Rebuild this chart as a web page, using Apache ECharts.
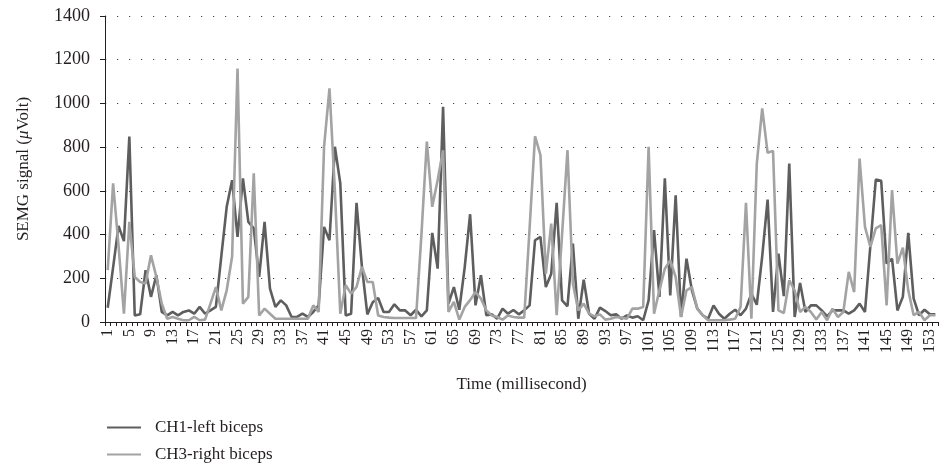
<!DOCTYPE html>
<html>
<head>
<meta charset="utf-8">
<script src="https://cdn.jsdelivr.net/npm/echarts@6/dist/echarts.min.js"></script>
<style>
html,body{margin:0;padding:0;background:#fff;}
#chart{width:941px;height:472px;}
</style>
</head>
<body>
<div id="chart"></div>
<script>
// Time index 1..154
var categories = [];
for (var i = 1; i <= 154; i++) categories.push(String(i));

var seriesNames = ['CH1-left biceps', 'CH3-right biceps'];

var ch1Left = [
 65,250,440,370,848,30,35,237,115,214,
 46,30,46,30,46,53,38,69,38,53,
 69,300,527,649,389,657,458,428,206,458,
 153,69,99,76,23,23,38,23,46,76,
 435,374,802,634,30,38,545,252,35,90,
 110,46,46,81,53,53,31,56,26,53,
 408,244,985,84,160,56,250,493,76,214,
 31,35,15,61,38,55,35,53,76,374,
 389,160,221,545,99,72,359,15,194,38,
 15,66,50,31,35,15,30,20,26,8,
 99,420,115,657,122,580,23,290,145,61,
 31,15,76,38,15,38,56,31,61,130,
 79,300,560,46,313,118,725,23,179,46,
 76,76,53,26,53,53,53,38,53,84,
 46,350,652,646,267,290,53,115,408,107,
 31,56,35,35
];

var ch3Right = [
 237,634,350,38,458,206,183,176,305,206,
 84,15,23,15,8,8,23,8,11,84,
 160,53,145,300,1160,84,115,680,30,61,
 38,15,15,15,15,15,15,15,76,46,
 802,1069,600,38,168,130,160,252,183,183,
 30,23,20,18,18,18,18,18,400,825,
 527,650,786,46,92,11,69,100,137,107,
 53,30,23,11,30,23,20,20,430,850,
 764,221,450,31,400,786,176,53,84,38,
 26,35,11,15,23,20,15,61,61,69,
 802,38,145,244,282,206,23,145,160,61,
 31,8,8,8,8,11,15,69,545,15,
 725,977,774,783,53,41,191,145,46,69,
 46,11,46,8,61,23,46,229,137,748,
 435,344,428,443,76,603,267,340,145,31,
 46,8,31,31
];

var yTicks = {min: 0, max: 1400, interval: 200};

var FONT = 'Liberation Serif';
var TXT = '#231f20';

var chart = echarts.init(document.getElementById('chart'), null, {renderer: 'canvas'});
chart.setOption({
  animation: false,
  backgroundColor: '#ffffff',
  grid: {left: 105, right: 3, top: 16, bottom: 150, containLabel: false},
  legend: {
    orient: 'vertical',
    left: 107, top: 419,
    padding: 0,
    icon: 'rect',
    itemWidth: 34, itemHeight: 2, itemGap: 10,
    textStyle: {fontFamily: FONT, fontSize: 17, color: TXT, padding: [0,0,0,9]},
    data: [seriesNames[0], seriesNames[1]]
  },
  xAxis: {
    type: 'category',
    data: categories,
    boundaryGap: true,
    name: 'Time (millisecond)',
    nameLocation: 'middle',
    nameGap: 54,
    nameTextStyle: {fontFamily: FONT, fontSize: 17, color: TXT},
    axisLine: {lineStyle: {color: '#231f20', width: 1}},
    axisTick: {show: true, interval: 0, length: 4, lineStyle: {color: '#231f20'}},
    axisLabel: {interval: 3, rotate: 90, fontFamily: FONT, fontSize: 16, color: TXT, margin: 7},
    splitLine: {show: false}
  },
  yAxis: {
    type: 'value',
    min: yTicks.min, max: yTicks.max, interval: yTicks.interval,
    name: '{a|SEMG signal (}{b|μ}{a|Volt)}',
    nameLocation: 'middle',
    nameGap: 73,
    nameTextStyle: {
      fontFamily: FONT, fontSize: 17, color: TXT,
      rich: {
        a: {fontFamily: FONT, fontSize: 17, color: TXT},
        b: {fontFamily: FONT, fontSize: 17, color: TXT, fontStyle: 'italic'}
      }
    },
    axisLine: {show: true, lineStyle: {color: '#231f20', width: 1}},
    axisTick: {show: true, length: 5, lineStyle: {color: '#231f20'}},
    axisLabel: {fontFamily: FONT, fontSize: 18, color: TXT, margin: 15,
      formatter: function (v) { return String(v); }},
    splitLine: {show: true, lineStyle: {color: '#444', width: 1.2, type: [1.2, 10.8]}}
  },
  series: [
    {name: seriesNames[0], type: 'line', data: ch1Left, symbol: 'none',
     lineStyle: {color: '#5e5e5e', width: 2.6}, itemStyle: {color: '#5e5e5e'}},
    {name: seriesNames[1], type: 'line', data: ch3Right, symbol: 'none',
     lineStyle: {color: '#a3a3a3', width: 2.6}, itemStyle: {color: '#a3a3a3'}}
  ]
});
</script>
</body>
</html>
